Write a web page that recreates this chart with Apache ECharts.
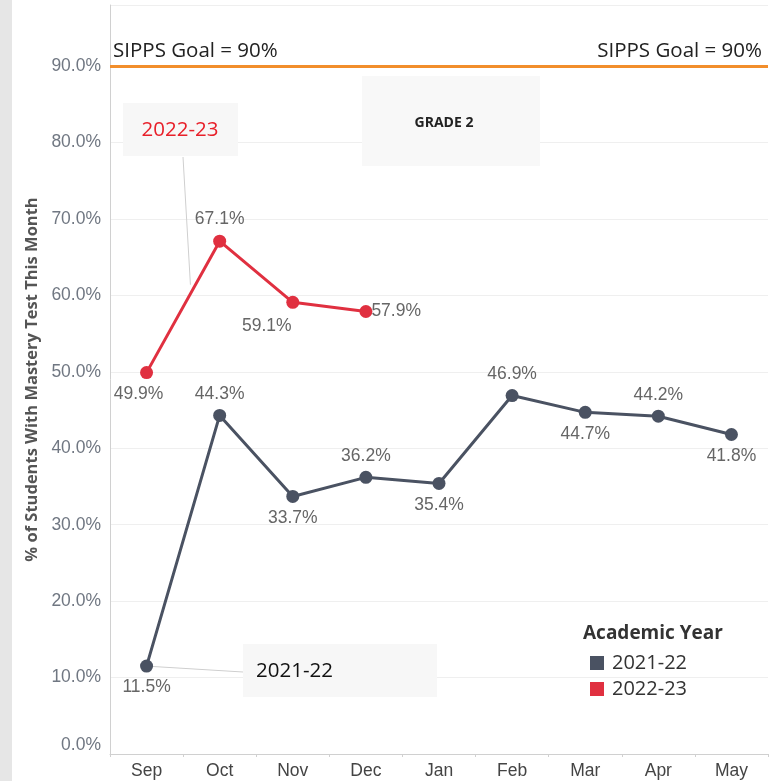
<!DOCTYPE html>
<html><head><meta charset="utf-8">
<script src="https://cdn.jsdelivr.net/npm/echarts@6/dist/echarts.min.js"></script>
<style>html,body{margin:0;padding:0;background:#fff;}#c{width:779px;height:781px;}</style>
</head><body><div id="c"></div>
<script>
const months = ['Sep','Oct','Nov','Dec','Jan','Feb','Mar','Apr','May'];
const y2122 = [11.5, 44.3, 33.7, 36.2, 35.4, 46.9, 44.7, 44.2, 41.8];
const y2223 = [49.9, 67.1, 59.1, 57.9, null, null, null, null, null];
const pos2122 = ['bottom','top','bottom','top','bottom','top','bottom','top','bottom'];
const pos2223 = ['bottom','top','bottom','right'];
const goal = 90;
const yTicks = [0,10,20,30,40,50,60,70,80,90];

const chart = echarts.init(document.getElementById('c'));
const labelFont = {fontFamily:'Liberation Sans', fontSize:17.5, color:'#666'};
function mk(vals, pos, extra){
  return vals.map((v,i)=> v==null ? null : {value:v, label:Object.assign({position:pos[i]}, (extra&&extra[i])||{})});
}
const extra2223 = [{offset:[-8,0]}, {}, {offset:[-26,2]}, {offset:[-7,0]}];
chart.setOption({
  animation:false,
  grid:{left:110, right:11, top:5, bottom:27},
  xAxis:{type:'category', data:months,
    axisLine:{show:true, lineStyle:{color:'#d0d0d0'}},
    axisTick:{show:true, length:3, lineStyle:{color:'#d0d0d0'}},
    axisLabel:{fontFamily:'Liberation Sans', fontSize:17.5, color:'#444', margin:8},
    splitLine:{show:false}},
  yAxis:{type:'value', min:0, max:98, interval:10,
    name:'% of Students With Mastery Test This Month', nameLocation:'middle', nameGap:69,
    nameTextStyle:{fontFamily:'Open Sans', fontWeight:'bold', fontSize:16.5, color:'#555'},
    axisLine:{show:true, lineStyle:{color:'#d0d0d0'}},
    axisTick:{show:false},
    axisLabel:{fontFamily:'Liberation Sans', fontSize:17.5, color:'#707782', margin:9, showMaxLabel:false,
      formatter:(v)=> v===0 ? '{z|0.0%}' : (yTicks.indexOf(v)>=0 ? v.toFixed(1)+'%' : ''),
      rich:{z:{fontFamily:'Liberation Sans', fontSize:17.5, color:'#707782', padding:[0,0,18,0]}}},
    splitLine:{show:true, lineStyle:{color:'#efefef'}}},
  legend:{orient:'vertical', left:585, top:648, itemWidth:14, itemHeight:14, itemGap:6, icon:'rect',
    textStyle:{fontFamily:'Open Sans', fontSize:20, color:'#333', padding:[0,0,0,3]},
    data:['2021-22','2022-23']},
  series:[
    {name:'2021-22', type:'line', data:mk(y2122,pos2122), symbol:'circle', symbolSize:13,
     itemStyle:{color:'#4a5262'}, lineStyle:{width:3, color:'#4a5262'},
     label:Object.assign({show:true, distance:6, formatter:(p)=>p.value.toFixed(1)+'%'}, labelFont),
     markLine:{silent:true, symbol:'none', lineStyle:{color:'#f28e2b', width:3, type:'solid'},
       label:{fontFamily:'Open Sans', fontSize:20.5, color:'#222', distance:[3,4]},
       data:[
         {yAxis:goal, label:{position:'insideStartTop', formatter:'SIPPS Goal = 90%'}},
         {yAxis:goal, label:{position:'insideEndTop', formatter:'SIPPS Goal = 90%', distance:[6,4]}}
       ]}},
    {name:'2022-23', type:'line', data:mk(y2223,pos2223,extra2223), symbol:'circle', symbolSize:13,
     itemStyle:{color:'#e03040'}, lineStyle:{width:3, color:'#e03040'},
     label:Object.assign({show:true, distance:6, formatter:(p)=>p.value.toFixed(1)+'%'}, labelFont)}
  ]
});

const pSep = chart.convertToPixel({seriesIndex:0}, [0, y2122[0]]);
const pA = chart.convertToPixel({seriesIndex:1}, [0, y2223[0]]);
const pB = chart.convertToPixel({seriesIndex:1}, [1, y2223[1]]);
const t = 0.6;
const onRed = [pA[0]+(pB[0]-pA[0])*t, pA[1]+(pB[1]-pA[1])*t - 9];

chart.setOption({graphic:[
  {type:'rect', left:0, top:0, shape:{width:12, height:781}, style:{fill:'#e6e6e6'}, z:0},
  {type:'line', shape:{x1:pSep[0], y1:pSep[1], x2:243, y2:672}, style:{stroke:'#cfcfcf', lineWidth:1}, z:1},
  {type:'line', shape:{x1:183, y1:157, x2:onRed[0], y2:onRed[1]}, style:{stroke:'#cfcfcf', lineWidth:1}, z:1},
  {type:'group', children:[
    {type:'rect', shape:{x:123, y:103, width:115, height:53}, style:{fill:'#f7f7f7'}, z:5},
    {type:'text', x:180, y:130, style:{text:'2022-23', fill:'#e8202a', font:'20.5px "Open Sans"', textAlign:'center', textVerticalAlign:'middle'}, z:6},
    {type:'rect', shape:{x:362, y:76, width:178, height:90}, style:{fill:'#f8f8f8'}, z:5},
    {type:'text', x:444, y:123, style:{text:'GRADE 2', fill:'#222', font:'bold 14px "Open Sans"', textAlign:'center', textVerticalAlign:'middle'}, z:6},
    {type:'rect', shape:{x:243, y:644, width:194, height:53}, style:{fill:'#f7f7f7'}, z:5},
    {type:'text', x:256, y:671, style:{text:'2021-22', fill:'#111', font:'20.5px "Open Sans"', textAlign:'left', textVerticalAlign:'middle'}, z:6},
    {type:'text', x:583, y:634, style:{text:'Academic Year', fill:'#333', font:'bold 19px "Open Sans"', textAlign:'left', textVerticalAlign:'middle'}, z:6}
  ]}
]});
</script></body></html>
